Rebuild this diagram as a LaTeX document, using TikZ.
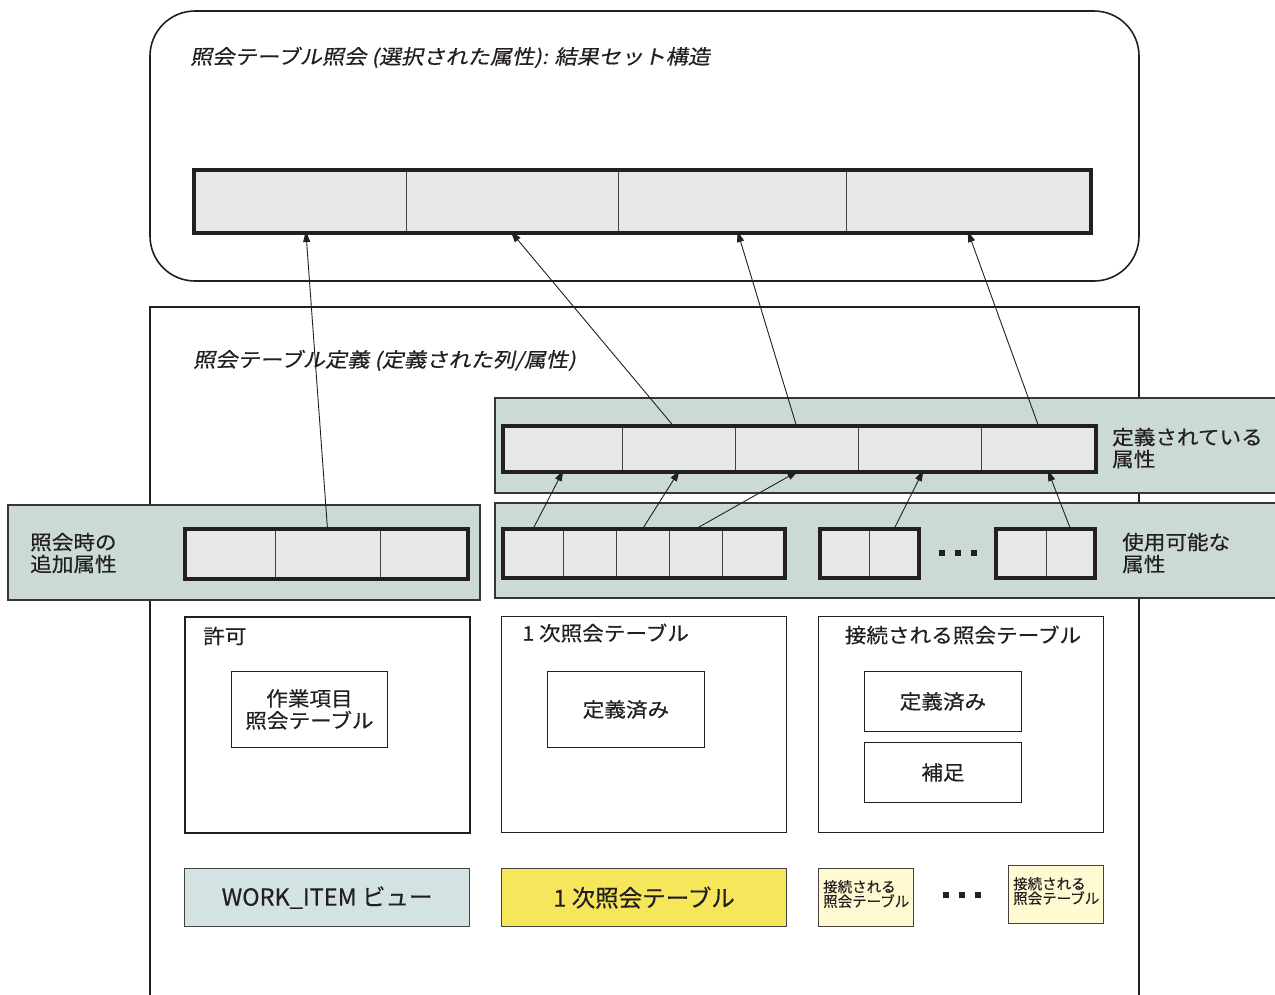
\documentclass[tikz,border=0pt]{standalone}
\usepackage{fontspec}
\setmainfont[FakeStretch=1.08,FakeBold=0.4]{Noto Sans CJK JP}
\newfontfamily\jpit[FakeSlant=0.2,FakeStretch=1.11,FakeBold=0.4]{Noto Sans CJK JP}
\newfontfamily\jpn[FakeBold=0.4]{Noto Sans CJK JP}
\usetikzlibrary{arrows.meta}
\definecolor{linec}{HTML}{231F20}
\definecolor{cellgray}{HTML}{E6E7E8}
\definecolor{bandgreen}{HTML}{CCDAD4}
\definecolor{wiblue}{HTML}{D3E2E2}
\definecolor{yel}{HTML}{F6E65C}
\definecolor{ltyel}{HTML}{FFFAD2}
\newcommand{\lblfont}{\fontsize{20}{22}\selectfont}
\newcommand{\ttlfont}{\jpit\fontsize{20}{22}\selectfont}
\newcommand{\botfont}{\jpn\fontsize{23.5}{25}\selectfont}
\newcommand{\smallfont}{\jpn\fontsize{14.5}{14.5}\selectfont}
\newcommand{\attrbar}[4]{%
  \foreach \xa/\xb [count=\i] in {#4} {%
    \node[cell, minimum width={\xb-\xa}, minimum height={#3-#2}] (#1\i) at ({(\xa+\xb)/2},{(#2+#3)/2}) {};
  }%
}
\tikzset{
  frame/.style={draw=linec, line width=1.6pt},
  cell/.style={draw=linec!85, line width=0.8pt, fill=cellgray, inner sep=0pt, outer sep=0pt},
  barframe/.style={draw=linec, line width=4pt},
  band/.style={draw=linec!90, line width=1.5pt, fill=bandgreen, inner sep=0pt, outer sep=0pt, anchor=north west},
  arr/.style={draw=linec, line width=0.9pt, -{Triangle[length=11pt,width=7pt]}},
  lbl/.style={inner sep=0pt, text=linec, font=\lblfont},
  ttl/.style={inner sep=0pt, text=linec, font=\ttlfont, anchor=base west},
  thickbox/.style={draw=linec, line width=1.6pt, inner sep=0pt, anchor=north west},
  thinbox/.style={draw=linec, line width=0.9pt, inner sep=0pt, anchor=north west},
  botbox/.style={draw=linec!85, line width=1.2pt, inner sep=0pt, anchor=north west, text=linec},
  dotsq/.style={fill=linec, minimum size=5.5pt, inner sep=0pt},
}
\begin{document}
\begin{tikzpicture}[x=1pt,y=-1pt]
\useasboundingbox (0,0) rectangle (1275,994);
% frames
\draw[frame, rounded corners=45pt] (150,11) rectangle (1139,281);
\draw[frame] (150,1010) -- (150,307) -- (1139,307) -- (1139,1010);
\node[ttl] (t1) at (190,64) {照会テーブル照会 (選択された属性): 結果セット構造};
\node[ttl] (t2) at (193,367) {照会テーブル定義 (定義された列/属性)};
% result bar
\attrbar{rs}{170}{233}{194/406,406/618,618/846,846/1091}
\draw[barframe] (rs1.north west) rectangle (rs4.south east);
% bands
\node[band, minimum width=795, minimum height=95] (bdef) at (495,398) {};
\node[band, minimum width=795, minimum height=95] (bav) at (495,503) {};
\node[band, minimum width=472, minimum height=95] (bleft) at (8,505) {};
% defined attributes bar
\attrbar{df}{426}{472}{503/622,622/735,735/858,858/981,981/1096}
\draw[barframe] (df1.north west) rectangle (df5.south east);
% left bar
\attrbar{lb}{529}{579}{185/275,275/380,380/468}
\draw[barframe] (lb1.north west) rectangle (lb3.south east);
% available bars
\attrbar{av}{529}{578}{503/563,563/616,616/669,669/722,722/785}
\draw[barframe] (av1.north west) rectangle (av5.south east);
\attrbar{bb}{529}{578}{820/869,869/919}
\draw[barframe] (bb1.north west) rectangle (bb2.south east);
\attrbar{bc}{529}{578}{996/1046,1046/1095}
\draw[barframe] (bc1.north west) rectangle (bc2.south east);
\node[dotsq] (d1) at (942,553) {};
\node[dotsq] (d2) at (958,553) {};
\node[dotsq] (d3) at (974,553) {};
% band labels
\node[lbl, anchor=west, align=left] (ldef) at (1112,448) {定義されている\\属性};
\node[lbl, anchor=west, align=left] (lav) at (1122,553) {使用可能な\\属性};
\node[lbl, anchor=west, align=left] (lleft) at (30,553) {照会時の\\追加属性};
% lower boxes
\node[thickbox, minimum width=285, minimum height=216] (perm) at (184,616) {};
\node[lbl, anchor=west] (permt) at (203,636) {許可};
\node[thinbox, minimum width=156, minimum height=76, align=center, font=\lblfont, text=linec] (wiq) at (231,671) {作業項目\\照会テーブル};
\node[thinbox, minimum width=285, minimum height=216] (prim) at (501,616) {};
\node[lbl, anchor=west] (primt) at (522,633) {1 次照会テーブル};
\node[thinbox, minimum width=157, minimum height=76, font=\lblfont, text=linec] (pdef) at (547,671) {定義済み};
\node[thinbox, minimum width=285, minimum height=216] (join) at (818,616) {};
\node[lbl] (joint) at (963,635) {接続される照会テーブル};
\node[thinbox, minimum width=157, minimum height=60, font=\lblfont, text=linec] (jdef) at (864,671) {定義済み};
\node[thinbox, minimum width=157, minimum height=60, font=\lblfont, text=linec] (jsup) at (864,742) {補足};
% bottom boxes
\node[botbox, fill=wiblue, minimum width=285, minimum height=58, font=\botfont] (wiv) at (184,868) {WORK\_ITEM ビュー};
\node[botbox, fill=yel, minimum width=285, minimum height=58, font=\botfont] (ptab) at (501,868) {1 次照会テーブル};
\node[botbox, fill=ltyel, minimum width=95, minimum height=58] (jt1) at (818,868) {};
\node[inner sep=0pt, anchor=west, align=left, font=\smallfont, text=linec] (jt1t) at (823,894) {接続される\\照会テーブル};
\node[botbox, fill=ltyel, minimum width=95, minimum height=58] (jt2) at (1008,865) {};
\node[inner sep=0pt, anchor=west, align=left, font=\smallfont, text=linec] (jt2t) at (1013,891) {接続される\\照会テーブル};
\node[dotsq] (e1) at (946,895) {};
\node[dotsq] (e2) at (962,895) {};
\node[dotsq] (e3) at (978,895) {};
% arrows
\draw[arr, shorten >=-2pt] (lb2.north) -- ([xshift=6pt]rs1.south);
\draw[arr, shorten >=-2pt] ([xshift=-5pt]df2.north) -- (rs2.south);
\draw[arr, shorten >=-2pt] (df3.north) -- ([xshift=6pt]rs3.south);
\draw[arr, shorten >=-2pt] (df5.north) -- (rs4.south);
\draw[arr, shorten >=-2pt] (av1.north) -- (df1.south);
\draw[arr, shorten >=-2pt] (av3.north) -- (df2.south);
\draw[arr, shorten >=-2pt] (av4.north) -- (df3.south);
\draw[arr, shorten >=-2pt] (bb2.north) -- ([xshift=3pt]df4.south);
\draw[arr, shorten >=-2pt] (bc2.north) -- ([xshift=10pt]df5.south);
\end{tikzpicture}
\end{document}
